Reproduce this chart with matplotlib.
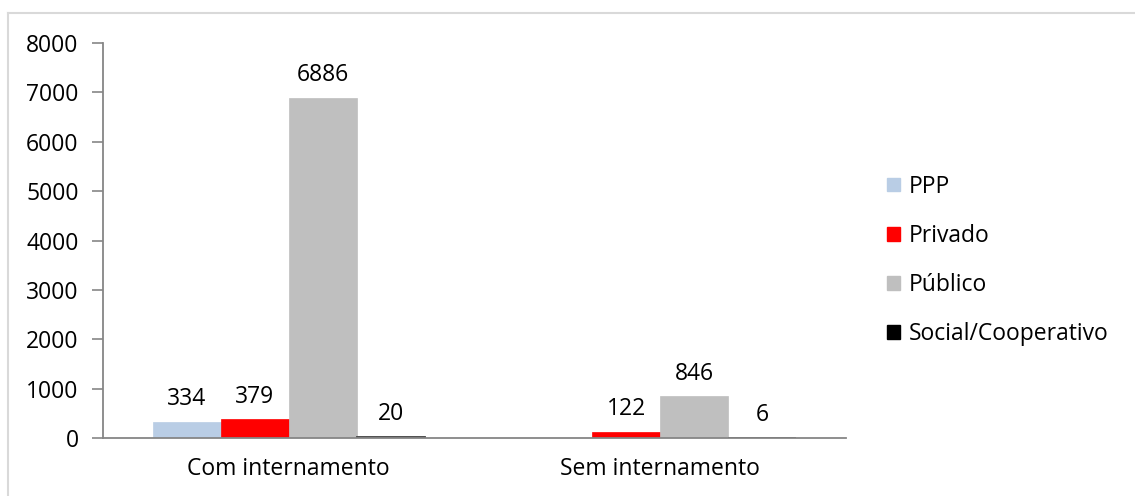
import numpy as np
import matplotlib
matplotlib.use("Agg")
import matplotlib.pyplot as plt
from matplotlib.patches import Patch
from matplotlib.lines import Line2D

plt.rcParams['font.family'] = ['Open Sans', 'DejaVu Sans']

categories = ["Com internamento", "Sem internamento"]
series_names = ["PPP", "Privado", "Público", "Social/Cooperativo"]
ppp = [334, np.nan]
privado = [379, 122]
publico = [6886, 846]
social = [20, 6]
series_values = [ppp, privado, publico, social]
colors = ["#B9CDE5", "#FF0000", "#BFBFBF", "#000000"]
y_ticks = [0, 1000, 2000, 3000, 4000, 5000, 6000, 7000, 8000]

FS = 16.5
W, H = 1135, 496
fig = plt.figure(figsize=(W / 100, H / 100), dpi=100)
ax = fig.add_axes([103 / W, (H - 438) / H, (846 - 103) / W, (438 - 43) / H])

x = np.arange(len(categories))
bar_w = 68 / 372
n = len(series_names)
for i, (name, vals, col) in enumerate(zip(series_names, series_values, colors)):
    offs = (i - (n - 1) / 2) * bar_w
    dark = col == "#000000"
    ax.bar(x + offs, vals, width=bar_w, color=col, label=name,
           edgecolor="#404040" if dark else col, linewidth=1.3 if dark else 0.5)
    for xi, v in zip(x, vals):
        if np.isnan(v):
            continue
        ax.annotate(f"{int(v)}", (xi + offs, v), xytext=(0, 12),
                    textcoords="offset points", ha="center", va="baseline",
                    fontsize=FS, color="black")

ax.set_xlim(-0.5, 1.5)
ax.set_ylim(0, 8000)
ax.set_yticks(y_ticks)
ax.set_yticklabels([str(t) for t in y_ticks], fontsize=FS)
ax.set_xticks(x)
ax.set_xticklabels(categories, fontsize=FS)
ax.tick_params(axis="x", length=0, pad=14)
ax.tick_params(axis="y", length=8, width=1.2, color="#868686", pad=9.5)
for s in ["top", "right"]:
    ax.spines[s].set_visible(False)
for s in ["left", "bottom"]:
    ax.spines[s].set_color("#868686")
    ax.spines[s].set_linewidth(1.3)

handles = [Patch(facecolor=c, edgecolor=c) for c in colors]
fig.legend(handles, series_names, loc="center left",
           bbox_to_anchor=(887 / W, (H - 260.5) / H), frameon=False,
           fontsize=FS, handlelength=0.55, handleheight=0.55,
           handletextpad=0.4, labelspacing=1.1, borderpad=0, borderaxespad=0)

# outer chart frame (left and top edges)
fig.add_artist(Line2D([8 / W, 8 / W], [0, (H - 13) / H], color="#D9D9D9", lw=1.5))
fig.add_artist(Line2D([8 / W, 1], [(H - 13) / H, (H - 13) / H], color="#D9D9D9", lw=1.5))

fig.savefig("out.png", dpi=100)
